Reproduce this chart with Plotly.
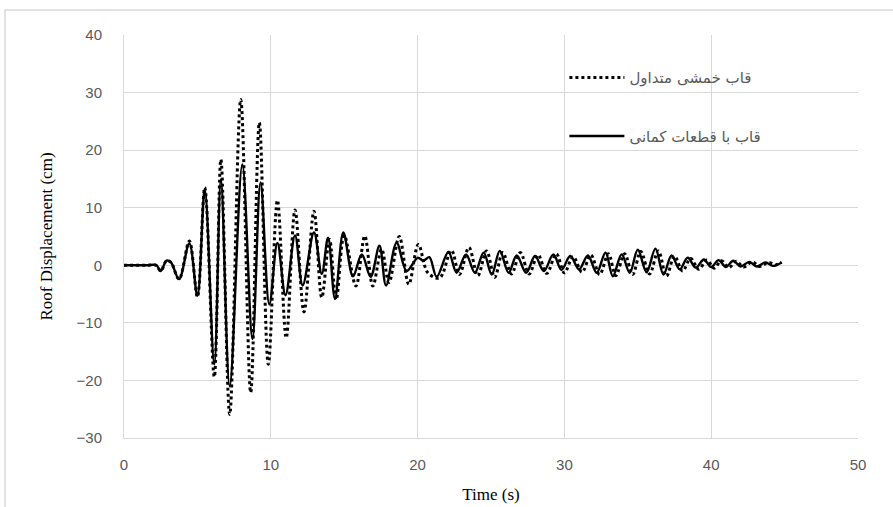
import plotly.graph_objects as go

# Series 1: conventional moment frame (dotted)
t_conv = [0, 1.5, 2.2, 2.5, 2.9, 3.2, 3.75, 4.45, 5.0, 5.5, 6.15, 6.6, 7.2, 7.95, 8.63, 9.22, 9.83,
          10.45, 11.05, 11.65, 12.26, 12.94, 13.47, 14.0, 14.45, 15.0, 15.8, 16.4, 16.95, 17.55,
          18.05, 18.75, 19.4, 20.05, 20.7, 21.5, 22.3, 22.85, 23.5, 24.1, 24.7, 25.25, 25.8, 26.4,
          27.0, 27.6, 28.2, 28.8, 29.45, 30.0, 30.6, 31.2, 31.8, 32.4, 33.0, 33.5, 34.1, 34.65,
          35.2, 35.8, 36.4, 36.95, 37.5, 38.05, 38.6, 39.15, 39.7, 40.2, 40.7, 41.2, 41.7, 42.2,
          42.8, 43.3, 43.9, 44.4, 44.8]
d_conv = [0, 0, 0, -1.0, 0.8, 0.5, -2.4, 4.2, -5.5, 13.5, -19.4, 18.4, -25.9, 28.8, -22.1, 24.8, -17.2,
          11.3, -12.6, 9.6, -8.1, 9.4, -5.6, 4.5, -6.0, 5.2, -3.6, 5.1, -3.6, 2.8,
          -3.0, 5.0, -3.3, 3.6, -1.3, -2.2, 2.6, -1.6, 3.1, -1.8, 2.5, -2.1, 2.2, -1.5,
          2.2, -1.5, 1.8, -1.4, 2.0, -1.3, 1.5, -1.2, 1.8, -1.6, 2.0, -1.8, 2.0, -1.6,
          2.4, -1.5, 2.5, -1.9, 1.6, -1.0, 1.2, -0.7, 0.9, -0.5, 0.8, -0.4, 0.7, -0.3,
          0.6, -0.2, 0.5, 0.1, 0.5]

# Series 2: frame with buckling segments (solid)
t_buck = [0, 1.5, 2.2, 2.5, 2.9, 3.2, 3.75, 4.45, 5.0, 5.5, 6.15, 6.6, 7.2, 8.06, 8.75, 9.3, 9.9,
          10.45, 11.0, 11.65, 12.17, 12.94, 13.47, 13.9, 14.37, 14.94, 15.6, 16.2, 16.8, 17.4,
          17.85, 18.57, 19.26, 20.0, 20.4, 20.8, 21.3, 22.1, 22.66, 23.3, 23.9, 24.5, 25.05, 25.6,
          26.2, 26.75, 27.4, 28.0, 28.6, 29.25, 29.8, 30.4, 31.0, 31.6, 32.2, 32.8, 33.3, 33.9,
          34.45, 35.0, 35.6, 36.2, 36.75, 37.3, 37.85, 38.4, 38.95, 39.5, 40.0, 40.5, 41.0, 41.5,
          42.0, 42.6, 43.1, 43.7, 44.2, 44.8]
d_buck = [0, 0, 0, -1.0, 0.8, 0.5, -2.4, 3.8, -5.3, 13.2, -17.2, 14.9, -21.0, 17.5, -12.8, 14.4, -6.8,
          3.9, -5.2, 5.2, -3.5, 5.7, -1.5, 4.8, -5.8, 5.7, -1.9, 1.9, -2.0, 3.4,
          -3.5, 3.9, -1.0, 1.3, 0.8, 1.4, -2.0, 2.3, -1.3, 1.9, -1.3, 2.2, -1.6, 2.5,
          -1.3, 1.7, -1.3, 1.6, -1.0, 1.9, -0.8, 1.6, -0.7, 1.7, -1.3, 2.2, -1.9, 1.9,
          -1.3, 2.7, -1.2, 2.9, -1.6, 1.7, -0.7, 1.3, -0.4, 1.0, -0.3, 0.9, -0.3, 0.8,
          -0.2, 0.6, -0.2, 0.5, -0.1, 0.5]

x_ticks = [0, 10, 20, 30, 40, 50]
y_ticks = [-30, -20, -10, 0, 10, 20, 30, 40]

name_conv = "قاب خمشی متداول"
name_buck = "قاب با قطعات کمانی"

fig = go.Figure()
fig.add_trace(go.Scatter(x=t_conv, y=d_conv, mode="lines", name=name_conv, legendgroup="a",
                         line=dict(color="black", width=3, dash="dot", shape="spline", smoothing=1.0)))
fig.add_trace(go.Scatter(x=t_buck, y=d_buck, mode="lines", name=name_buck, legendgroup="b",
                         line=dict(color="black", width=2.4, shape="spline", smoothing=1.0)))

grid = "#d9d9d9"
tickfont = dict(family="Liberation Sans Narrow, Liberation Sans, Arial", size=15, color="#595959")
titlefont = dict(family="Liberation Serif, Times New Roman, serif", size=17, color="black")

fig.update_layout(
    width=893, height=507,
    margin=dict(l=124, r=35, t=35, b=69),
    paper_bgcolor="white", plot_bgcolor="white",
    showlegend=True,
    legend=dict(x=0.60, y=0.935, xanchor="left", yanchor="top",
                bgcolor="rgba(0,0,0,0)", tracegroupgap=36, itemwidth=55,
                font=dict(family="DejaVu Sans, Noto Sans", size=15, color="#595959")),
    xaxis=dict(range=[0, 50], tickvals=x_ticks, showgrid=True, gridcolor=grid, gridwidth=1,
               zeroline=False, showline=True, linecolor=grid, linewidth=1, mirror=False,
               ticks="", tickfont=tickfont, ticklabelstandoff=13, automargin=False,
               title=dict(text="Time (s)", font=titlefont, standoff=16)),
    yaxis=dict(range=[-30, 40], tickvals=y_ticks, showgrid=True, gridcolor=grid, gridwidth=1,
               zeroline=False, showline=True, linecolor=grid, linewidth=1, automargin=False,
               ticks="", tickfont=tickfont, ticklabelstandoff=18,
               title=dict(text="Roof Displacement (cm)", font=titlefont, standoff=19)),
    shapes=[dict(type="rect", xref="paper", yref="paper", x0=-0.1621, x1=1.06, y0=-0.21, y1=1.062,
                 line=dict(color="#d9d9d9", width=1.5), fillcolor="rgba(0,0,0,0)", layer="below")],
)

fig.write_html("out.html")
